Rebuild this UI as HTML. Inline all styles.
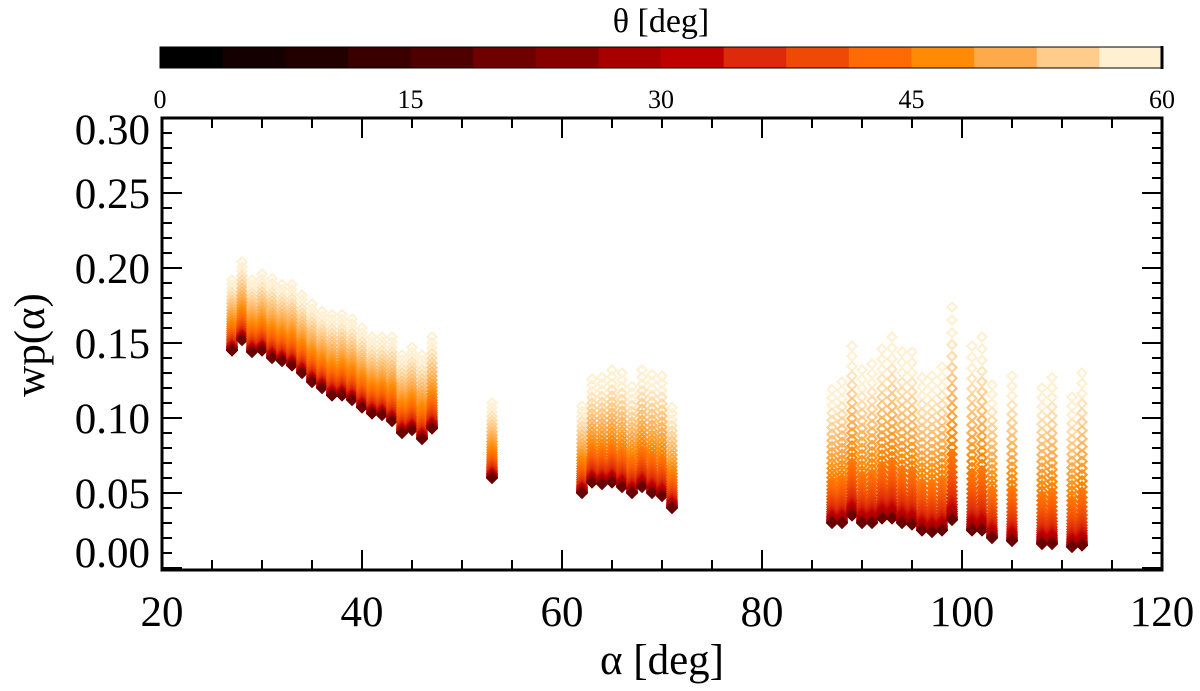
<!DOCTYPE html>
<html><head><meta charset="utf-8">
<style>
body{margin:0;background:#fff;}
svg text{font-family:"Liberation Serif",serif;fill:#000;}
</style></head>
<body>
<svg id="c" width="1200" height="686" viewBox="0 0 1200 686" xmlns="http://www.w3.org/2000/svg"></svg>
<script>
const alphas=[27,28,29,30,31,32,33,34,35,36,37,38,39,40,41,42,43,44,45,46,47,53,62,63,64,65,66,67,68,69,70,71,87,88,89,90,91,92,93,94,95,96,97,98,99,101,102,103,105,108,109,111,112];
const wpMax=[0.192,0.204,0.192,0.196,0.193,0.189,0.189,0.182,0.176,0.171,0.169,0.169,0.166,0.160,0.154,0.154,0.154,0.142,0.147,0.142,0.154,0.110,0.108,0.126,0.127,0.132,0.130,0.121,0.132,0.129,0.128,0.107,0.119,0.124,0.148,0.132,0.136,0.146,0.154,0.144,0.144,0.127,0.128,0.134,0.174,0.148,0.154,0.122,0.128,0.120,0.127,0.114,0.130];
const wpMin=[0.145,0.152,0.144,0.145,0.140,0.138,0.135,0.130,0.124,0.120,0.115,0.115,0.112,0.107,0.103,0.102,0.098,0.090,0.092,0.086,0.093,0.060,0.050,0.057,0.056,0.057,0.054,0.050,0.054,0.050,0.048,0.040,0.030,0.030,0.035,0.030,0.030,0.033,0.033,0.030,0.029,0.025,0.024,0.025,0.032,0.025,0.025,0.020,0.018,0.016,0.016,0.014,0.015];
const cbColors=["#000000","#150000","#220000","#3a0000","#4e0000","#6e0000","#860000","#a80000","#be0000","#dc2a0a","#ee4a06","#ff6a05","#ff8a05","#ffaa4a","#ffcc8c","#fff0d2"];
const cbTicks=[0,15,30,45,60];
const xTicks=[20,40,60,80,100,120];
const yTicks=[0.00,0.05,0.10,0.15,0.20,0.25,0.30];

const NS="http://www.w3.org/2000/svg";
const svg=document.getElementById('c');
const L=162,R=1162,T=118,B=570;
const X=v=>L+(v-20)*(R-L)/100;
const Y=v=>568-v*1500;
const CBL=160,CBR=1162;
const CX=t=>CBL+t*(CBR-CBL)/60;
function mk(tag,attrs,parent){const e=document.createElementNS(NS,tag);for(const k in attrs)e.setAttribute(k,attrs[k]);(parent||svg).appendChild(e);return e;}
function hex(c){return [parseInt(c.slice(1,3),16),parseInt(c.slice(3,5),16),parseInt(c.slice(5,7),16)];}
function col(th){const n=cbColors.length;let f=th/60*n-0.5;f=Math.max(0,Math.min(n-1,f));const i=Math.floor(f),j=Math.min(n-1,i+1),u=f-i;const a=hex(cbColors[i]),b=hex(cbColors[j]);return `rgb(${a.map((v,k)=>Math.round(v+(b[k]-v)*u)).join(',')})`;}

// colorbar
const cb=mk('g',{});


const w=(CBR-CBL)/cbColors.length;
cbColors.forEach((c,i)=>{const r=mk('rect',{x:CBL+i*w,y:47,width:w+0.5,height:21,fill:c},cb);});
mk('rect',{x:CBL,y:47,width:CBR-CBL,height:21,fill:'none',stroke:'#000','stroke-width':1},cb);
mk('line',{x1:CBR,y1:46,x2:CBR,y2:69,stroke:'#000','stroke-width':3},cb);
cbTicks.forEach(t=>{const tx=mk('text',{x:CX(t),y:108,'font-size':26,'text-anchor':'middle'},cb);tx.textContent=t;});
const cbt=mk('text',{x:661,y:32,'font-size':34,'text-anchor':'middle'});cbt.textContent='θ [deg]';



// data
const marks=mk('g',{});


const TH0=20,TH1=60;
alphas.forEach((a,i)=>{
  const g=mk('g',{},marks);
  
  
  for(let th=TH1;th>=TH0;th--){
    const t=(th-TH0)/(TH1-TH0);
    const v=wpMin[i]+(wpMax[i]-wpMin[i])*Math.pow(t,2.5);
    const cx=X(a),cy=Y(v),s=4.5;
    const p=mk('path',{d:`M${cx} ${cy-s}L${cx+s} ${cy}L${cx} ${cy+s}L${cx-s} ${cy}Z`,fill:th>45?'none':col(th),stroke:col(th),'stroke-width':2.2},g);
    
    
  }
});

// axes
const ax=mk('g',{});


mk('rect',{x:L,y:T,width:R-L,height:B-T,fill:'none',stroke:'#000','stroke-width':3},ax);
for(let v=20;v<=120;v+=5){const maj=(v%20===0);const len=maj?20:10;
  mk('line',{x1:X(v),y1:B,x2:X(v),y2:B-len,stroke:'#000','stroke-width':2},ax);
  mk('line',{x1:X(v),y1:T,x2:X(v),y2:T+len,stroke:'#000','stroke-width':2},ax);}
for(let k=0;k<=30;k++){const v=k/100;const maj=(k%5===0);const len=maj?20:10;
  mk('line',{x1:L,y1:Y(v),x2:L+len,y2:Y(v),stroke:'#000','stroke-width':2},ax);
  mk('line',{x1:R,y1:Y(v),x2:R-len,y2:Y(v),stroke:'#000','stroke-width':2},ax);}
xTicks.forEach(v=>{const t=mk('text',{x:X(v),y:626,'font-size':43,'text-anchor':'middle'},ax);t.textContent=v;});
yTicks.forEach(v=>{let yy=Y(v)+15;if(v>=0.295)yy=Y(v)+26;if(v<0.005)yy=Y(v)-1;const t=mk('text',{x:150,y:yy,'font-size':43,'text-anchor':'end'},ax);t.textContent=v.toFixed(2);});
const xt=mk('text',{x:662,y:674,'font-size':43,'text-anchor':'middle'});xt.textContent='α [deg]';


const yt=mk('text',{x:0,y:0,'font-size':43,'text-anchor':'middle',transform:'translate(44,345) rotate(-90)'});yt.textContent='wp(α)';


</script>
</body></html>
